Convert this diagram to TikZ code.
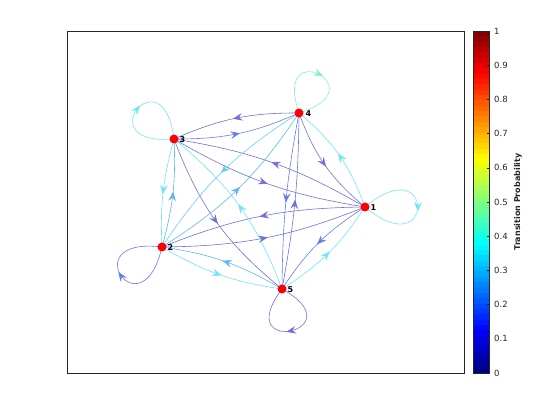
\documentclass[tikz,border=0pt]{standalone}
\usepackage{fontspec}
\setmainfont{DejaVu Sans}
\usetikzlibrary{arrows.meta,decorations.markings}
\definecolor{dkE}{RGB}{112,112,216}
\definecolor{mbE}{RGB}{100,125,238}
\definecolor{lbE}{RGB}{95,180,245}
\definecolor{lcE}{RGB}{105,205,248}
\definecolor{cyE}{RGB}{110,230,250}
\definecolor{gnE}{RGB}{130,240,205}
\definecolor{axgrey}{RGB}{38,38,38}
\begin{document}
\begin{tikzpicture}[x=1pt,y=1pt,
  tedge/.style={draw=#1, line width=0.6pt, postaction={decorate},
    decoration={markings, mark=at position 0.5 with {\arrow[xshift=2pt]{Stealth[length=9.5pt,width=7.5pt,inset=3.5pt]}}}},
  tloop/.style={draw=#1, line width=0.6pt, postaction={decorate},
    decoration={markings, mark=at position 0.5 with {\arrow[xshift=4.5pt]{Stealth[length=9.5pt,width=7.5pt,inset=3.5pt]}}}},
  vtx/.style={circle, fill=red, inner sep=0pt, minimum size=9pt},
  vlab/.style={font=\bfseries\fontsize{8}{8}\selectfont, inner sep=0pt, text=black},
  ticklab/.style={anchor=west, font=\fontsize{8.5}{8.5}\selectfont, text=axgrey, inner sep=0pt}
]
\useasboundingbox (0,0) rectangle (560,420);
% node centres
\coordinate (c1) at (365,213);
\coordinate (c2) at (162,173);
\coordinate (c3) at (174,281);
\coordinate (c4) at (299,307);
\coordinate (c5) at (282,131);
% axes box
\draw[axgrey, line width=0.6pt] (67,47) rectangle (464,389);
% edges
\draw[tedge=mbE] (c3) to[bend right=12] (c4);
\draw[tedge=dkE] (c4) to[bend right=12] (c3);
\draw[tedge=dkE] (c4) to[bend right=15] (c1);
\draw[tedge=cyE] (c1) to[bend right=15] (c4);
\draw[tedge=mbE] (c1) to[bend right=12] (c5);
\draw[tedge=cyE] (c5) to[bend right=12] (c1);
\draw[tedge=cyE] (c2) to[bend right=11] (c5);
\draw[tedge=lbE] (c5) to[bend right=11] (c2);
\draw[tedge=lbE] (c2) to[bend right=9] (c3);
\draw[tedge=cyE] (c3) to[bend right=9] (c2);
\draw[tedge=dkE] (c3) to[bend right=10.5] (c1);
\draw[tedge=dkE] (c1) to[bend right=10.5] (c3);
\draw[tedge=dkE] (c2) to[bend right=10.5] (c1);
\draw[tedge=dkE] (c1) to[bend right=10.5] (c2);
\draw[tedge=mbE] (c4) to[bend right=5] (c5);
\draw[tedge=dkE] (c5) to[bend right=5] (c4);
\draw[tedge=dkE] (c3) to[bend right=15] (c5);
\draw[tedge=cyE] (c5) to[bend right=15] (c3);
\draw[tedge=lcE] (c4) to[bend right=12] (c2);
\draw[tedge=lbE] (c2) to[bend right=12] (c4);
% self loops
\draw[tloop=cyE] (c1) .. controls +(40:92) and +(-40:92) .. (c1);
\draw[tloop=mbE] (c2) .. controls +(257:90) and +(173:90) .. (c2);
\draw[tloop=cyE] (c3) .. controls +(185:88) and +(97:88) .. (c3);
\draw[tloop=gnE] (c4) .. controls +(109:84) and +(17:84) .. (c4);
\draw[tloop=dkE] (c5) .. controls +(331:87) and +(233:87) .. (c5);
% vertices
\node[vtx] (n1) at (c1) {};
\node[vtx] (n2) at (c2) {};
\node[vtx] (n3) at (c3) {};
\node[vtx] (n4) at (c4) {};
\node[vtx] (n5) at (c5) {};
\node[vlab] (l1) at (373.5,212.3) {1};
\node[vlab] (l2) at (170.5,172.3) {2};
\node[vlab] (l3) at (182.5,280.3) {3};
\node[vlab] (l4) at (308.5,306.3) {4};
\node[vlab] (l5) at (290.5,130.3) {5};
% colorbar
\foreach \i in {0,...,63} {
  \pgfmathsetmacro{\vv}{(\i+0.5)/64}
  \pgfmathsetmacro{\rr}{max(0,min(1,1.5-abs(4*\vv-3)))}
  \pgfmathsetmacro{\gg}{max(0,min(1,1.5-abs(4*\vv-2)))}
  \pgfmathsetmacro{\bb}{max(0,min(1,1.5-abs(4*\vv-1)))}
  \pgfmathsetmacro{\ya}{47+\i*5.34375}
  \pgfmathsetmacro{\yb}{\ya+5.54}
  \definecolor{cbc}{rgb}{\rr,\gg,\bb}
  \fill[cbc] (473,\ya) rectangle (489,\yb);
}
\draw[axgrey, line width=0.6pt] (473,47) rectangle (489,389);
\foreach \k in {0,...,10} {
  \draw[axgrey, line width=0.5pt] (486.5,{47+\k*34.2}) -- (489,{47+\k*34.2});
}
\node[ticklab] (t0) at (494,47) {0};
\node[ticklab] (t1) at (494,81.2) {0.1};
\node[ticklab] (t2) at (494,115.4) {0.2};
\node[ticklab] (t3) at (494,149.6) {0.3};
\node[ticklab] (t4) at (494,183.8) {0.4};
\node[ticklab] (t5) at (494,218) {0.5};
\node[ticklab] (t6) at (494,252.2) {0.6};
\node[ticklab] (t7) at (494,286.4) {0.7};
\node[ticklab] (t8) at (494,320.6) {0.8};
\node[ticklab] (t9) at (494,354.8) {0.9};
\node[ticklab] (t10) at (494,389) {1};
\node[rotate=90, font=\bfseries\fontsize{8}{8}\selectfont, text=axgrey, inner sep=0pt] (cbl) at (518,218) {Transition Probability};
\end{tikzpicture}
\end{document}
